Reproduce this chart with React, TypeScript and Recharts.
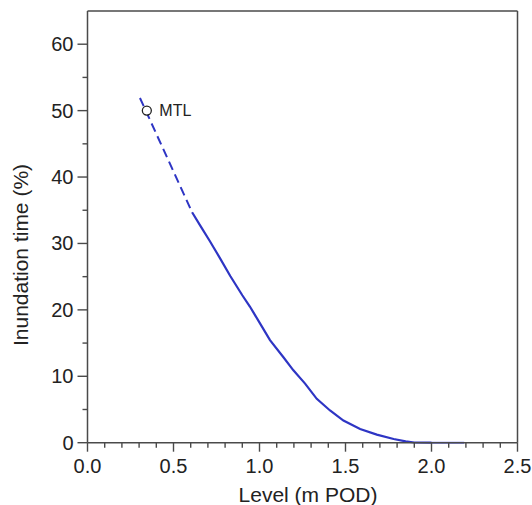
import { LineChart, Line, XAxis, YAxis, ReferenceLine, ReferenceDot, Label } from "recharts"

// dashed extrapolation above the measured range
const dashedLevel = [0.305, 0.608]
const dashedTime = [51.9, 34.7]

// measured inundation curve
const solidLevel = [0.608, 0.66, 0.71, 0.77, 0.83, 0.9, 0.944, 1.002, 1.061, 1.138, 1.197, 1.265, 1.333, 1.41, 1.488, 1.585, 1.682, 1.78, 1.85, 1.9, 2.0]
const solidTime = [34.7, 32.5, 30.4, 27.8, 25.1, 22.2, 20.5, 18.0, 15.45, 12.9, 10.9, 8.9, 6.6, 4.85, 3.33, 2.07, 1.21, 0.55, 0.2, 0.03, 0.0]

// lighter tail along zero
const tailLevel = [2.0, 2.19]
const tailTime = [0, 0]

const mtlLevel = 0.345
const mtlTime = 50

const xTicks = [0, 0.1, 0.2, 0.3, 0.4, 0.5, 0.6, 0.7, 0.8, 0.9, 1.0, 1.1, 1.2, 1.3, 1.4, 1.5, 1.6, 1.7, 1.8, 1.9, 2.0, 2.1, 2.2, 2.3, 2.4, 2.5]
const yTicks = [0, 5, 10, 15, 20, 25, 30, 35, 40, 45, 50, 55, 60]

const AXIS = "#4a4a4a"
const TEXT = "#222"
const BLUE = "#2e35c4"
const FONT = "'Liberation Sans', Arial, sans-serif"

const toRows = (xs: number[], ys: number[]) => xs.map((level, i) => ({ level, time: ys[i] }))

function XTick(props: any) {
  const { x, y, payload } = props
  const v = payload.value as number
  const major = Math.abs(v * 2 - Math.round(v * 2)) < 1e-6
  return (
    <g>
      <line x1={x} x2={x} y1={y} y2={y + (major ? 9 : 5)} stroke={AXIS} strokeWidth={1.4} />
      {major && (
        <text x={x} y={y + 30} textAnchor="middle" fontSize={20} fill={TEXT} fontFamily={FONT}>
          {v.toFixed(1)}
        </text>
      )}
    </g>
  )
}

function YTick(props: any) {
  const { x, y, payload } = props
  const v = payload.value as number
  const major = v % 10 === 0
  return (
    <g>
      <line x1={x - (major ? 10 : 5)} x2={x} y1={y} y2={y} stroke={AXIS} strokeWidth={1.4} />
      {major && (
        <text x={x - 14} y={y + 7} textAnchor="end" fontSize={20} fill={TEXT} fontFamily={FONT}>
          {v}
        </text>
      )}
    </g>
  )
}

export default function App() {
  return (
    <div style={{ position: "absolute", left: 0, top: 0, fontFamily: FONT }}>
      <LineChart width={532} height={505} margin={{ top: 11, right: 14.5, left: 0, bottom: 0 }}>
        <XAxis
          dataKey="level"
          type="number"
          domain={[0, 2.5]}
          ticks={xTicks}
          interval={0}
          height={62.3}
          tickSize={0}
          tickMargin={0}
          tickLine={false}
          tick={<XTick />}
          axisLine={{ stroke: AXIS, strokeWidth: 1.5 }}
        >
          <Label
            content={() => (
              <text x={308} y={502} textAnchor="middle" fontSize={21} fill={TEXT} fontFamily={FONT}>
                Level (m POD)
              </text>
            )}
          />
        </XAxis>
        <YAxis
          type="number"
          domain={[0, 65]}
          ticks={yTicks}
          interval={0}
          width={87.5}
          tickSize={0}
          tickMargin={0}
          tickLine={false}
          tick={<YTick />}
          axisLine={{ stroke: AXIS, strokeWidth: 1.5 }}
        >
          <Label
            content={() => (
              <text transform="rotate(-90)" x={-255} y={28.3} textAnchor="middle" fontSize={21} fill={TEXT} fontFamily={FONT}>
                Inundation time (%)
              </text>
            )}
          />
        </YAxis>
        <ReferenceLine y={65} stroke={AXIS} strokeWidth={1.5} />
        <ReferenceLine x={2.5} stroke={AXIS} strokeWidth={1.5} />
        <Line
          data={toRows(dashedLevel, dashedTime)}
          dataKey="time"
          type="linear"
          stroke={BLUE}
          strokeWidth={2}
          strokeDasharray="9 5"
          dot={false}
          isAnimationActive={false}
        />
        <Line
          data={toRows(tailLevel, tailTime)}
          dataKey="time"
          type="linear"
          stroke="#6f74ee"
          strokeWidth={2}
          dot={false}
          isAnimationActive={false}
        />
        <Line
          data={toRows(solidLevel, solidTime)}
          dataKey="time"
          type="linear"
          stroke={BLUE}
          strokeWidth={2.2}
          dot={false}
          isAnimationActive={false}
        />
        <ReferenceDot
          x={mtlLevel}
          y={mtlTime}
          r={4.5}
          fill="#fff"
          stroke={TEXT}
          strokeWidth={1.3}
          label={{ value: "MTL", position: "right", offset: 8, fontSize: 16, fill: TEXT, fontFamily: FONT }}
        />
      </LineChart>
    </div>
  )
}
